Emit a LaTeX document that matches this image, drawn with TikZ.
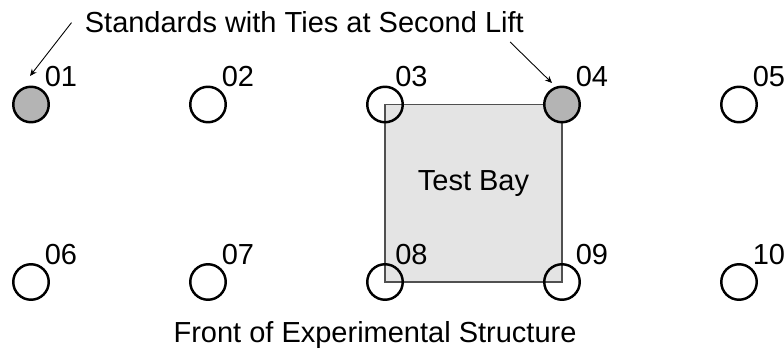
\documentclass[tikz,border=0pt]{standalone}
\usepackage{fontspec}
\setmainfont{Liberation Sans}
\usepackage{xcolor}
\definecolor{tied}{HTML}{B4B4B4}
\definecolor{bay}{HTML}{E4E4E4}
\definecolor{bayline}{HTML}{505050}
\usepackage{tikz}
\usetikzlibrary{
    arrows.meta,
    backgrounds,
    calc,
}

\begin{document}
\begin{tikzpicture}[%
    scale=1.0,
    every node/.style={
        inner sep=0,
        font=\fontsize{16.5}{20}\selectfont,
    },
    standard/.style={
        circle,
        minimum size=0.71cm,
        line width=1.4pt,
        draw=black,
    },
    tied/.style={
        fill=tied,
    },
    number/.style={
        anchor=base west,
    },
    pointer/.style={
        draw,
        line width=0.5pt,
        -{Stealth[length=4pt, width=3.5pt]},
    },
    baybox/.style={
        draw=bayline,
        fill=bay,
        line width=0.7pt,
    },
]

\useasboundingbox (0, 0) rectangle (15.68, 7.02);

% back row of standards
\node [standard, tied] (s01) at (0.62, 4.93) {};
\node [standard] (s02) at (4.16, 4.93) {};
\node [standard] (s03) at (7.70, 4.93) {};
\node [standard, tied] (s04) at (11.24, 4.93) {};
\node [standard] (s05) at (14.78, 4.93) {};

% front row of standards
\node [standard] (s06) at (0.62, 1.38) {};
\node [standard] (s07) at (4.16, 1.38) {};
\node [standard] (s08) at (7.70, 1.38) {};
\node [standard] (s09) at (11.24, 1.38) {};
\node [standard] (s10) at (14.78, 1.38) {};

% numbers
\node [number] (n01) at ($(s01) + (0.27, 0.35)$) {01};
\node [number] (n02) at ($(s02) + (0.27, 0.35)$) {02};
\node [number] (n03) at ($(s03) + (0.20, 0.35)$) {03};
\node [number] (n04) at ($(s04) + (0.27, 0.35)$) {04};
\node [number] (n05) at ($(s05) + (0.27, 0.35)$) {05};
\node [number] (n06) at ($(s06) + (0.27, 0.35)$) {06};
\node [number] (n07) at ($(s07) + (0.27, 0.35)$) {07};
\node [number] (n08) at ($(s08) + (0.20, 0.35)$) {08};
\node [number] (n09) at ($(s09) + (0.27, 0.35)$) {09};
\node [number] (n10) at ($(s10) + (0.27, 0.35)$) {10};

% the bay between 03, 04, 08 and 09
\begin{scope}[on background layer]
    \draw [baybox] (s08.center) rectangle (s04.center);
\end{scope}
\node [anchor=base] (bay) at ($(s08)!0.5!(s04) + (0, 0.05)$) {Test Bay};

% ties note
\node [anchor=base west] (title) at (1.69, 6.36)
    {Standards with Ties at Second Lift};
\coordinate (tail01) at ($(title.west) + (-0.26, 0)$);
\coordinate (tip01) at ($(s01) + (-0.02, 0.57)$);
\coordinate (tail04) at ($(title.base east) + (-0.28, -0.18)$);
\coordinate (tip04) at ($(s04) + (-0.20, 0.43)$);
\draw [pointer] (tail01) -- (tip01);
\draw [pointer] (tail04) -- (tip04);

\node [anchor=base] (front) at (7.50, 0.16)
    {Front of Experimental Structure};

\end{tikzpicture}
\end{document}
